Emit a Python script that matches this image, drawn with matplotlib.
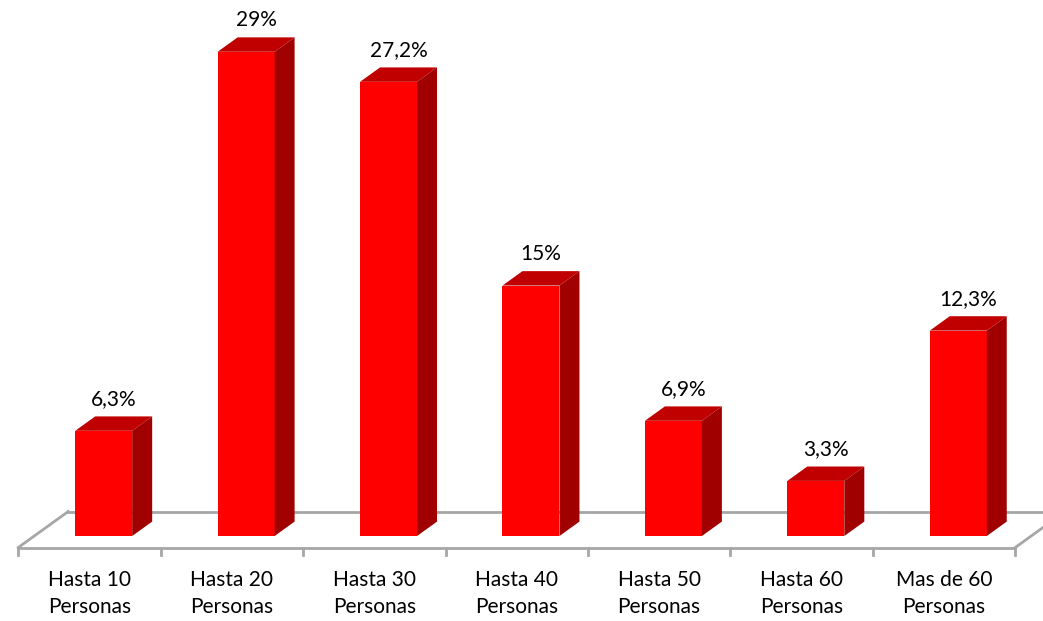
import matplotlib
matplotlib.use("Agg")
import matplotlib.pyplot as plt
from matplotlib.patches import Polygon

categories = ["Hasta 10\nPersonas", "Hasta 20\nPersonas", "Hasta 30\nPersonas",
              "Hasta 40\nPersonas", "Hasta 50\nPersonas", "Hasta 60\nPersonas",
              "Mas de 60\nPersonas"]
values = [6.3, 29, 27.2, 15, 6.9, 3.3, 12.3]
value_labels = ["6,3%", "29%", "27,2%", "15%", "6,9%", "3,3%", "12,3%"]

plt.rcParams['font.family'] = ['Lato', 'DejaVu Sans']

fig = plt.figure(figsize=(10.43, 6.21), dpi=100)
ax = fig.add_axes([0, 0, 1, 1])
ax.set_xlim(-0.628, 6.695)
ax.set_ylim(-5.09, 32.1)
ax.axis('off')

# depth direction of the fake 3d floor (in data units)
ddx, ddy = 0.351, 2.156
f0, f1 = 0.32, 0.72          # bar front / back depth fraction
floor_y = -f0 * ddy
half_w = 0.2
grey = '#a6a6a6'
n = len(values)

# floor
x0, x1 = -0.5, n - 0.5
ax.plot([x0, x1], [floor_y, floor_y], color=grey, lw=2, zorder=1)
ax.plot([x0 + ddx, x1 + ddx], [floor_y + ddy, floor_y + ddy], color=grey, lw=2, zorder=1)
ax.plot([x0, x0 + ddx], [floor_y, floor_y + ddy], color=grey, lw=2, zorder=1)
ax.plot([x1, x1 + ddx], [floor_y, floor_y + ddy], color=grey, lw=2, zorder=1)
for b in range(n + 1):
    ax.plot([b - 0.5, b - 0.5], [floor_y, floor_y - 0.45], color=grey, lw=2, zorder=1)

for i, v in enumerate(values):
    xl = i - half_w + 0.1
    xr = i + half_w + 0.1
    sx = (f1 - f0) * ddx
    sy = (f1 - f0) * ddy
    front = Polygon([(xl, 0), (xr, 0), (xr, v), (xl, v)], closed=True,
                    facecolor='#ff0000', edgecolor='none', zorder=3)
    top = Polygon([(xl, v), (xr, v), (xr + sx, v + sy), (xl + sx, v + sy)], closed=True,
                  facecolor='#c00000', edgecolor='none', zorder=3)
    side = Polygon([(xr, 0), (xr + sx, sy), (xr + sx, v + sy), (xr, v)], closed=True,
                   facecolor='#a00000', edgecolor='none', zorder=3)
    for p in (front, top, side):
        ax.add_patch(p)
    ax.annotate(value_labels[i], (i + 0.1 + sx / 2, v + sy),
                xytext=(0, 5), textcoords='offset points',
                ha='center', va='bottom', fontsize=15)
    ax.annotate(categories[i], (i, floor_y), xytext=(0, -33), textcoords='offset points',
                ha='center', va='center', fontsize=15, linespacing=1.4)

fig.savefig('out.png', dpi=100)
